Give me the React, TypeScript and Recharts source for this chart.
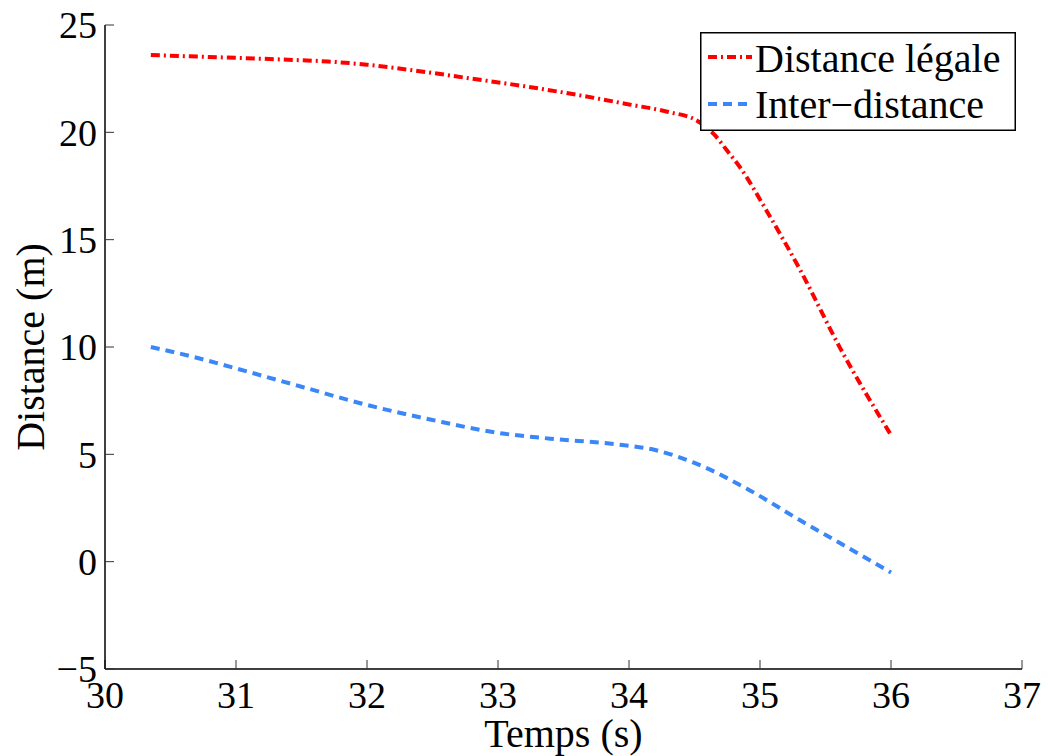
import { LineChart, Line, XAxis, YAxis, Legend } from 'recharts';

// Distance légale (red, dash-dot)
const legaleT = [30.35, 30.6, 31.0, 31.4, 31.7, 32.0, 32.4, 32.8, 33.2, 33.6, 34.0, 34.3, 34.52, 34.65, 34.75, 34.85, 35.05, 35.31, 35.61, 36.0];
const legaleD = [23.6, 23.55, 23.47, 23.38, 23.3, 23.15, 22.85, 22.5, 22.15, 21.75, 21.3, 20.95, 20.54, 19.9, 19.14, 18.35, 16.35, 13.55, 9.97, 5.9];

// Inter-distance (blue, dashed)
const interT = [30.35, 30.7, 31.0, 31.5, 32.0, 32.5, 33.0, 33.4, 33.9, 34.2, 34.5, 34.9, 35.3, 35.6, 36.0];
const interD = [10.0, 9.5, 9.0, 8.15, 7.3, 6.6, 6.0, 5.73, 5.47, 5.2, 4.6, 3.4, 1.95, 0.9, -0.5];

const xTicks = [30, 31, 32, 33, 34, 35, 36, 37];
const yTicks = [-5, 0, 5, 10, 15, 20, 25];

const legaleData = legaleT.map((t, i) => ({ t, d: legaleD[i] }));
const interData = interT.map((t, i) => ({ t, d: interD[i] }));

const RED = '#ff0000';
const BLUE = '#3b87f7';
const FONT = '"Liberation Serif", "Times New Roman", serif';
const tickFont = { fontFamily: FONT, fontSize: 38, fill: '#000' };
const fmt = (v: number) => (v < 0 ? `\u2212${Math.abs(v)}` : `${v}`);

function LegendBox() {
  return (
    <svg width={316} height={99} style={{ display: 'block' }}>
      <rect x={0.75} y={0.75} width={314.5} height={97.5} fill="#fff" stroke="#000" strokeWidth={1.5} />
      <line x1={8} x2={52} y1={25} y2={25} stroke={RED} strokeWidth={4} strokeDasharray="9 4 2 4" />
      <text x={55} y={40} fontFamily={FONT} fontSize={40} fill="#000">Distance légale</text>
      <line x1={8} x2={52} y1={72} y2={72} stroke={BLUE} strokeWidth={4} strokeDasharray="9 6" />
      <text x={55} y={86} fontFamily={FONT} fontSize={40} fill="#000">Inter−distance</text>
    </svg>
  );
}

export default function App() {
  return (
    <div style={{ position: 'absolute', left: 0, top: 0, background: '#fff' }}>
      <LineChart width={1048} height={756} margin={{ top: 25, right: 26, bottom: 0, left: 0 }}>
        <XAxis
          xAxisId="bottom"
          type="number"
          dataKey="t"
          domain={[30, 37]}
          ticks={xTicks}
          height={87}
          tickSize={-9}
          tickMargin={21}
          tick={tickFont}
          tickLine={{ stroke: '#333' }}
          axisLine={{ stroke: '#000', strokeWidth: 1.5 }}
          label={{
            content: ({ viewBox }: any) => (
              <text x={viewBox.x + viewBox.width / 2} y={747} textAnchor="middle" fontFamily={FONT} fontSize={40} fill="#000">
                Temps (s)
              </text>
            ),
          }}
        />
        <XAxis
          xAxisId="top"
          orientation="top"
          type="number"
          dataKey="t"
          domain={[30, 37]}
          ticks={xTicks}
          height={0}
          tickSize={-9}
          tick={false}
          tickLine={{ stroke: '#333' }}
          axisLine={{ stroke: '#000', strokeWidth: 1.5 }}
        />
        <YAxis
          yAxisId="left"
          type="number"
          domain={[-5, 25]}
          ticks={yTicks}
          width={105}
          tickSize={-9}
          tickMargin={17}
          tick={tickFont}
          tickFormatter={fmt}
          tickLine={{ stroke: '#333' }}
          axisLine={{ stroke: '#000', strokeWidth: 1.5 }}
          label={{
            content: ({ viewBox }: any) => {
              const cx = 30;
              const cy = viewBox.y + viewBox.height / 2;
              return (
                <text
                  x={cx}
                  y={cy}
                  transform={`rotate(-90 ${cx} ${cy})`}
                  textAnchor="middle"
                  dominantBaseline="central"
                  fontFamily={FONT}
                  fontSize={40}
                  fill="#000"
                >
                  Distance (m)
                </text>
              );
            },
          }}
        />
        <YAxis
          yAxisId="right"
          orientation="right"
          type="number"
          domain={[-5, 25]}
          ticks={yTicks}
          width={0}
          tickSize={-9}
          tick={false}
          tickLine={{ stroke: '#333' }}
          axisLine={{ stroke: '#000', strokeWidth: 1.5 }}
        />
        <Line
          xAxisId="bottom"
          yAxisId="left"
          data={legaleData}
          dataKey="d"
          type="monotone"
          stroke={RED}
          strokeWidth={4}
          strokeDasharray="9 4 2 4"
          dot={false}
          activeDot={false}
          isAnimationActive={false}
        />
        <Line
          xAxisId="bottom"
          yAxisId="left"
          data={interData}
          dataKey="d"
          type="monotone"
          stroke={BLUE}
          strokeWidth={4}
          strokeDasharray="9 6"
          dot={false}
          activeDot={false}
          isAnimationActive={false}
        />
        <Legend
          layout="vertical"
          align="center"
          verticalAlign="middle"
          content={() => <LegendBox />}
          wrapperStyle={{ left: 700, top: 32, width: 316, height: 99 }}
        />
      </LineChart>
    </div>
  );
}
